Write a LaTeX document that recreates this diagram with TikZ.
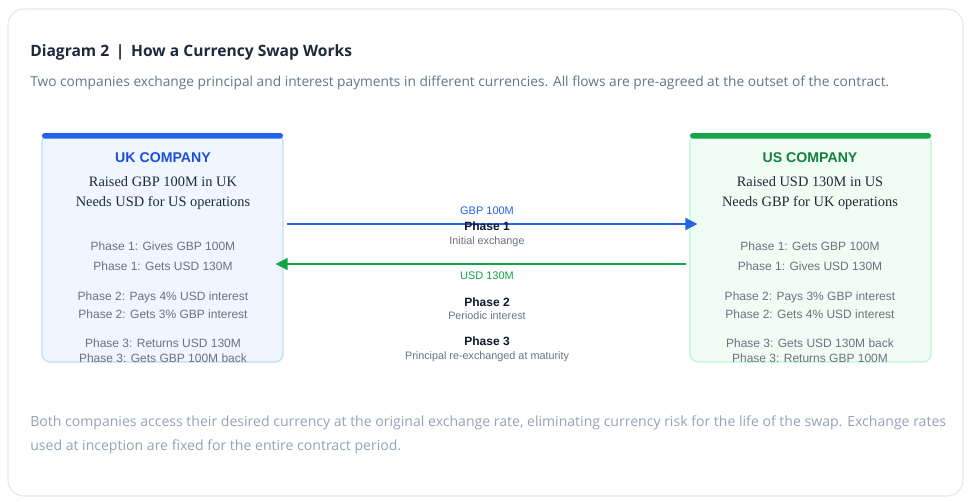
\documentclass[tikz,border=0pt]{standalone}
\usepackage{fontspec}
\setmainfont{Liberation Sans}
\newfontfamily\uifont{Open Sans}
\newfontfamily\serifbody{Liberation Serif}
\usetikzlibrary{arrows.meta}
\definecolor{cardborder}{HTML}{E2E8F0}
\definecolor{titlecol}{HTML}{1E293B}
\definecolor{subcol}{HTML}{64748B}
\definecolor{footcol}{HTML}{94A3B8}
\definecolor{ukbar}{HTML}{2563EB}
\definecolor{ukfill}{HTML}{EFF6FF}
\definecolor{ukborder}{HTML}{BFDBFE}
\definecolor{uktitle}{HTML}{1D4ED8}
\definecolor{usbar}{HTML}{16A34A}
\definecolor{usfill}{HTML}{F0FDF4}
\definecolor{usborder}{HTML}{BBF7D0}
\definecolor{ustitle}{HTML}{15803D}
\definecolor{phasecol}{HTML}{6B7280}
\definecolor{darktext}{HTML}{0F172A}
\definecolor{serifcol}{HTML}{1F2937}
\begin{document}
\begin{tikzpicture}[x=0.75pt,y=-0.75pt,
  company/.style={draw, rounded corners=6pt, line width=0.9pt, minimum width=180.75pt, minimum height=171pt, inner sep=0pt},
  boxtitle/.style={font=\fontsize{10.6}{12}\selectfont\bfseries, anchor=base},
  serifline/.style={font=\serifbody\fontsize{10.8}{13}\selectfont, text=serifcol, anchor=base},
  phaseline/.style={font=\fontsize{9}{10}\selectfont, text=phasecol, anchor=base},
  amount/.style={font=\fontsize{8.25}{10}\selectfont, anchor=base},
  phasehead/.style={font=\fontsize{9}{10}\selectfont\bfseries, text=darktext, anchor=base},
  phasesub/.style={font=\fontsize{8.1}{9}\selectfont, text=phasecol, anchor=base},
  flow/.style={line width=1.3pt, -{Triangle[length=9pt,width=9pt]}}
]
\useasboundingbox (0,0) rectangle (970,501);
\fill[white] (0,0) rectangle (970,501);
\draw[cardborder, line width=0.8pt, fill=white, rounded corners=12pt] (8,9) rectangle (963,496);

\node[anchor=base west, font=\uifont\fontsize{11.7}{13}\selectfont\bfseries, text=titlecol, inner sep=0pt] (title) at (30,56) {Diagram 2 \,|\, How a Currency Swap Works};
\node[anchor=base west, font=\uifont\fontsize{10.3}{12}\selectfont, text=subcol, inner sep=0pt] (subtitle) at (30,86) {Two companies exchange principal and interest payments in different currencies. All flows are pre-agreed at the outset of the contract.};

% boxes
\node[company, draw=ukborder, fill=ukfill] (ukbox) at (162.5,248) {};
\node[company, draw=usborder, fill=usfill] (usbox) at (810.5,248) {};
\fill[ukbar, rounded corners=2pt] (42,133) rectangle (283,138.5);
\fill[usbar, rounded corners=2pt] (690,133) rectangle (931,138.5);

% UK text
\node[boxtitle, text=uktitle] (ukt) at (163,162) {UK COMPANY};
\node[serifline] (uks1) at (163,186) {Raised GBP 100M in UK};
\node[serifline] (uks2) at (163,206) {Needs USD for US operations};
\node[phaseline] (ukp1) at (163,250) {Phase 1: Gives GBP 100M};
\node[phaseline] (ukp2) at (163,270) {Phase 1: Gets USD 130M};
\node[phaseline] (ukp3) at (163,300) {Phase 2: Pays 4\% USD interest};
\node[phaseline] (ukp4) at (163,318) {Phase 2: Gets 3\% GBP interest};
\node[phaseline] (ukp5) at (163,347) {Phase 3: Returns USD 130M};
\node[phaseline] (ukp6) at (163,362) {Phase 3: Gets GBP 100M back};

% US text
\node[boxtitle, text=ustitle] (ust) at (810,162) {US COMPANY};
\node[serifline] (uss1) at (810,186) {Raised USD 130M in US};
\node[serifline] (uss2) at (810,206) {Needs GBP for UK operations};
\node[phaseline] (usp1) at (810,250) {Phase 1: Gets GBP 100M};
\node[phaseline] (usp2) at (810,270) {Phase 1: Gives USD 130M};
\node[phaseline] (usp3) at (810,300) {Phase 2: Pays 3\% GBP interest};
\node[phaseline] (usp4) at (810,318) {Phase 2: Gets 4\% USD interest};
\node[phaseline] (usp5) at (810,347) {Phase 3: Gets USD 130M back};
\node[phaseline] (usp6) at (810,362) {Phase 3: Returns GBP 100M};

% arrows
\coordinate (ya) at (0,224);
\coordinate (yb) at (0,264);
\draw[flow, ukbar] ([xshift=2.25pt]ukbox.east |- ya) -- ([xshift=6pt]usbox.west |- ya);
\draw[flow, usbar] ([xshift=-2.25pt]usbox.west |- yb) -- ([xshift=-6pt]ukbox.east |- yb);

% centre labels
\node[amount, text=ukbar] (amt1) at (487,214) {GBP 100M};
\node[phasehead] (ph1) at (487,230) {Phase 1};
\node[phasesub] (ph1s) at (487,244) {Initial exchange};
\node[amount, text=usbar] (amt2) at (487,279) {USD 130M};
\node[phasehead] (ph2) at (487,306) {Phase 2};
\node[phasesub] (ph2s) at (487,319) {Periodic interest};
\node[phasehead] (ph3) at (487,345) {Phase 3};
\node[phasesub] (ph3s) at (487,359) {Principal re-exchanged at maturity};

% footer
\node[anchor=base west, align=left, font=\uifont\fontsize{10.55}{18}\selectfont, text=footcol, inner sep=0pt] (footer) at (30,450) {Both companies access their desired currency at the original exchange rate, eliminating currency risk for the life of the swap. Exchange rates\\used at inception are fixed for the entire contract period.};
\end{tikzpicture}
\end{document}
